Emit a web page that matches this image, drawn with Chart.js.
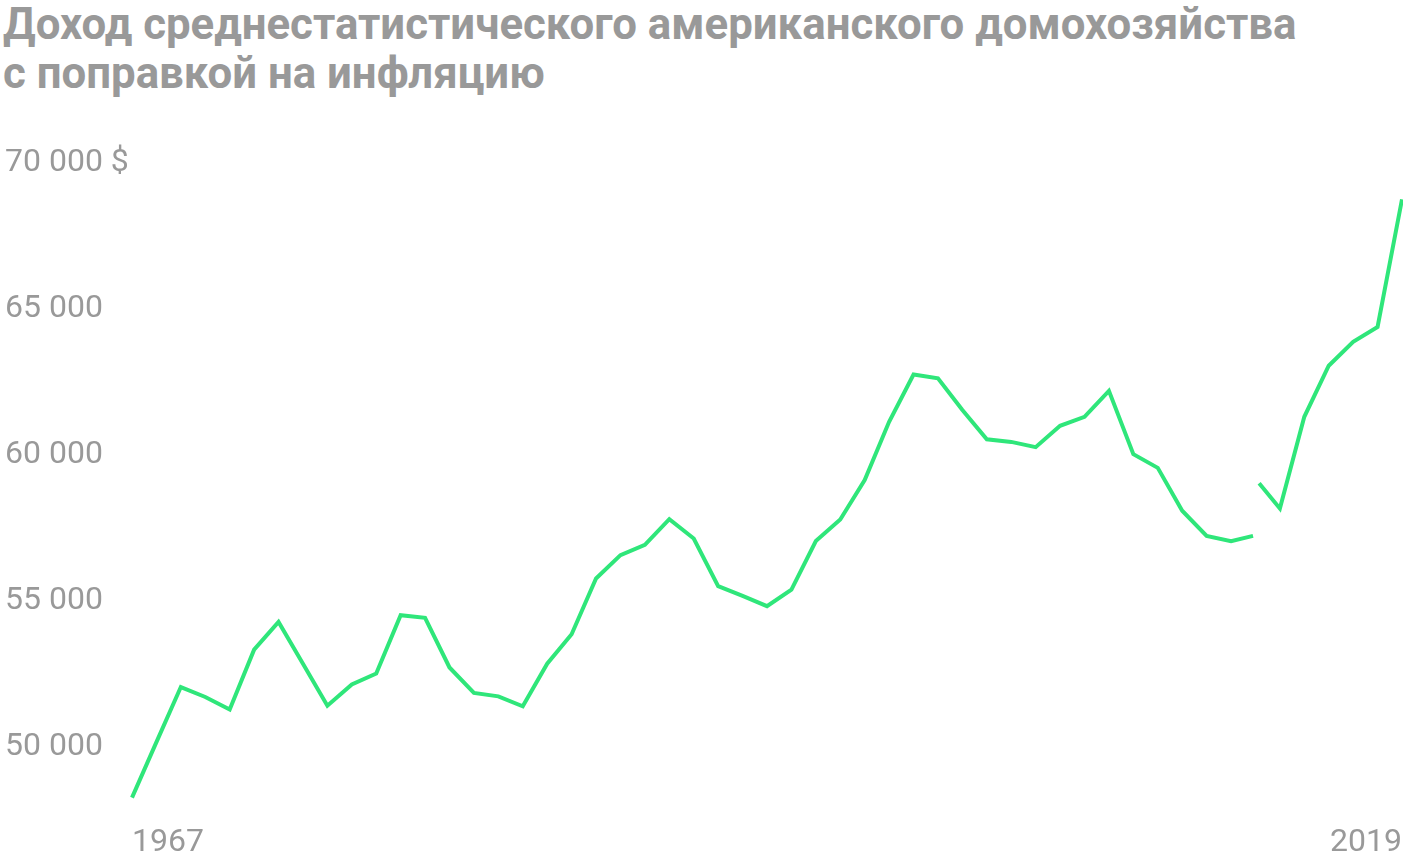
<!DOCTYPE html>
<html lang="ru">
<head>
<meta charset="utf-8">
<script src="https://cdn.jsdelivr.net/npm/chart.js@4.4.1/dist/chart.umd.min.js"></script>
<style>
  html, body { margin: 0; padding: 0; background: #fff; }
  #wrap { position: relative; width: 1403px; height: 860px; }
  h1 {
    position: absolute; left: 3px; top: 0; margin: 0;
    font-family: Roboto, "Noto Sans", sans-serif; font-weight: 700;
    font-size: 43.8px; line-height: 49px; color: #999999;
  }
  canvas { position: absolute; left: 0; top: 0; }
</style>
</head>
<body>
<div id="wrap">
  <h1>Доход среднестатистического американского домохозяйства<br>с поправкой на инфляцию</h1>
  <canvas id="chart" width="1403" height="860"></canvas>
</div>
<script>
// years up to the 2013 survey change (old method)
const yearsOld = [1967, 1968, 1969, 1970, 1971, 1972, 1973, 1974, 1975, 1976,
  1977, 1978, 1979, 1980, 1981, 1982, 1983, 1984, 1985, 1986,
  1987, 1988, 1989, 1990, 1991, 1992, 1993, 1994, 1995, 1996,
  1997, 1998, 1999, 2000, 2001, 2002, 2003, 2004, 2005, 2006,
  2007, 2008, 2009, 2010, 2011, 2012, 2012.9];
const incomeOld = [48150, 50050, 51940, 51600, 51170, 53220, 54170, 52740, 51300, 52030,
  52400, 54400, 54310, 52610, 51740, 51620, 51280, 52740, 53750, 55660,
  56460, 56810, 57690, 57030, 55400, 55060, 54710, 55280, 56940, 57680,
  59030, 61030, 62650, 62520, 61430, 60430, 60340, 60160, 60890, 61200,
  62090, 59920, 59450, 57980, 57120, 56940, 57120];

// from 2013 (new method) on; 2013 drawn twice, nudged apart like the original
const yearsNew = [2013.15, 2014, 2015, 2016, 2017, 2018, 2019];
const incomeNew = [58920, 58060, 61200, 62950, 63770, 64280, 68650];

const yTicks = [50000, 55000, 60000, 65000, 70000];
const xTicks = [1967, 2019];

const green = '#2fe67a';
const grey = '#999999';

function fmt(v) {
  return String(v).replace(/\B(?=(\d{3})+(?!\d))/g, ' ');
}

function toPoints(xs, ys) {
  return xs.map((x, i) => ({ x: x, y: ys[i] }));
}

const lineStyle = {
  borderColor: green,
  borderWidth: 4,
  pointRadius: 0,
  tension: 0,
  fill: false,
  clip: false,
  borderJoinStyle: 'miter'
};

new Chart(document.getElementById('chart'), {
  type: 'line',
  data: {
    datasets: [
      Object.assign({ data: toPoints(yearsOld, incomeOld) }, lineStyle),
      Object.assign({ data: toPoints(yearsNew, incomeNew) }, lineStyle)
    ]
  },
  options: {
    responsive: false,
    animation: false,
    layout: { padding: { top: 160, left: 5, right: 1, bottom: 0 } },
    plugins: { legend: { display: false }, tooltip: { enabled: false }, title: { display: false } },
    scales: {
      x: {
        type: 'linear',
        min: 1967,
        max: 2019,
        grid: { display: false, drawTicks: false },
        border: { display: false },
        afterBuildTicks: axis => { axis.ticks = xTicks.map(v => ({ value: v })); },
        afterFit: axis => {
          axis.height = 58;
          axis.paddingLeft = 0;
          axis.paddingRight = 0;
        },
        ticks: {
          align: 'inner',
          padding: 22,
          maxRotation: 0,
          color: grey,
          font: { family: 'Roboto', size: 32 },
          callback: v => String(v)
        }
      },
      y: {
        min: 48000,
        max: 70000,
        grid: { display: false, drawTicks: false },
        border: { display: false },
        afterBuildTicks: axis => { axis.ticks = yTicks.map(v => ({ value: v })); },
        afterFit: axis => { axis.width = 127; },
        ticks: {
          crossAlign: 'far',
          padding: 0,
          labelOffset: 3,
          color: grey,
          font: { family: 'Roboto', size: 32 },
          callback: v => v === 70000 ? fmt(v) + ' $' : fmt(v)
        }
      }
    }
  }
});
</script>
</body>
</html>
